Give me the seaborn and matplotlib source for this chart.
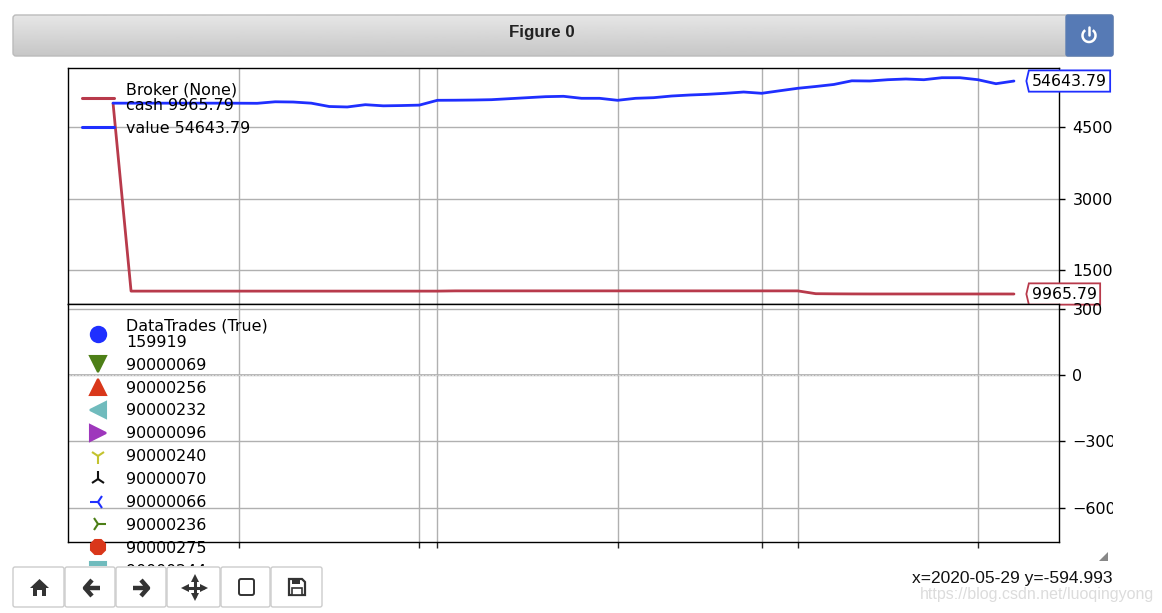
import numpy as np
import pandas as pd
import seaborn as sns
from matplotlib import pyplot as plt
from matplotlib.lines import Line2D
from matplotlib.patches import Arc, FancyBboxPatch, Polygon, Rectangle
from matplotlib.path import Path

# values, one per bar of the backtest
cash = [50000, 10570, 10570, 10570, 10570, 10570, 10570, 10570, 10570, 10570,
        10570, 10570, 10570, 10570, 10570, 10570, 10570, 10570, 10570, 10620,
        10620, 10620, 10620, 10620, 10620, 10620, 10620, 10620, 10620, 10620,
        10620, 10620, 10620, 10620, 10620, 10620, 10620, 10620, 10620, 10030,
        10000, 9980, 9970, 9970, 9970, 9970, 9970, 9970, 9970, 9970, 9965.79]
value = [50000, 50000, 50000, 50000, 50000, 50000, 50000, 49990, 49970, 50290,
         50240, 50000, 49300, 49200, 49680, 49440, 49500, 49590, 50600, 50620,
         50660, 50730, 50940, 51150, 51360, 51440, 51020, 51020, 50600, 51020,
         51150, 51500, 51710, 51860, 52070, 52340, 52070, 52600, 53120, 53500,
         53920, 54690, 54650, 54920, 55070, 54920, 55340, 55340, 54920, 54080,
         54643.79]
x_ticks = [7, 17, 18, 28, 36, 38, 48]
top_yticks = [15000, 30000, 45000]
bottom_yticks = [300, 0, -300, -600]

trade_ids = ['DataTrades (True)\n159919', '90000069', '90000256', '90000232',
             '90000096', '90000240', '90000070', '90000066', '90000236',
             '90000275', '90000244']
trade_markers = ['o', 'v', '^', '<', '>', '1', '2', '3', '4', '8', 's']
trade_colors = ['#1f2fff', '#4d7f17', '#d9371a', '#70bbbd', '#9e37bc', '#c3c32f',
                '#111111', '#1f2fff', '#4d7f17', '#d9371a', '#70bbbd']

RED = '#b83a4b'
BLUE = '#1f2fff'
INK = '#333333'

sns.set_theme(style='ticks')
plt.rcParams['font.family'] = ['DejaVu Sans']
plt.rcParams['font.size'] = 11
plt.rcParams['text.color'] = 'black'

W, H = 1162, 613
fig = plt.figure(figsize=(W / 100, H / 100), dpi=100)
fig.patch.set_facecolor('white')


def px_axes(left, top, right, bottom, **kw):
    return fig.add_axes([left / W, 1 - bottom / H, (right - left) / W, (bottom - top) / H], **kw)


def tag_box(x0, y0, w, h, m):
    # box with a small point on its left side
    pad = 0.2 * m
    x0, y0, x1, y1 = x0 - pad, y0 - pad, x0 + w + pad, y0 + h + pad
    pts = [(x0, y0), (x1, y0), (x1, y1), (x0, y1), (x0 - 2.5, (y0 + y1) / 2), (x0, y0)]
    return Path(pts, closed=True)


ax_top = px_axes(68, 68, 1059, 304)
ax_bot = px_axes(68, 304, 1059, 542, sharex=ax_top)

df = pd.DataFrame({'bar': np.arange(len(cash)), 'cash': cash, 'value': value})
sns.lineplot(data=df, x='bar', y='cash', color=RED, lw=2, ax=ax_top,
             label='Broker (None)\ncash 9965.79')
sns.lineplot(data=df, x='bar', y='value', color=BLUE, lw=2, ax=ax_top,
             label='value 54643.79')

ax_top.set_xlim(-2.5, 52.5)
ax_top.set_ylim(7868, 57377)
ax_bot.set_ylim(-755, 321)
ax_top.set_yticks(top_yticks)
ax_bot.set_yticks(bottom_yticks)
ax_top.set_xticks(x_ticks)

for ax in (ax_top, ax_bot):
    ax.grid(True, color='#b0b0b0', lw=1.0)
    ax.set_axisbelow(True)
    ax.set_xlabel('')
    ax.set_ylabel('')
    ax.yaxis.tick_right()
    ax.tick_params(axis='y', length=4.5, width=1, pad=5.2, labelsize=11.5, colors='black')
    ax.tick_params(axis='x', length=4.5, width=1, labelbottom=False)
    for s in ax.spines.values():
        s.set_visible(True)
        s.set_color('black')
        s.set_linewidth(1.0)
ax_top.tick_params(axis='x', length=0)
ax_bot.axhline(0, color='#b0b0b0', lw=1.2)
ax_bot.axhline(0, color='white', lw=0.4, ls=(0, (4, 2)))

leg = ax_top.legend(loc='upper left', frameon=False, fontsize=11.4, handlelength=2.0,
                    handletextpad=0.78, labelspacing=0.5)
for t in leg.get_texts():
    t.set_linespacing(1.05)
for h in leg.get_lines():
    h.set_linewidth(2.2)

for val, txt, col in [(value[-1], '54643.79', BLUE), (cash[-1], '9965.79', RED)]:
    ax_top.annotate(txt, xy=(50, val), xytext=(13, 0), textcoords='offset points',
                    va='center', ha='left', fontsize=11.3, annotation_clip=False,
                    bbox=dict(boxstyle=tag_box, fc='white', ec=col, lw=1.3))

handles = [Line2D([], [], ls='none', marker=m, color=c, ms=11, mew=1.5)
           for m, c in zip(trade_markers, trade_colors)]
leg2 = ax_bot.legend(handles, trade_ids, loc='upper left', frameon=False, fontsize=11.4,
                     handlelength=2.0, handletextpad=0.78, labelspacing=0.5)
for t in leg2.get_texts():
    t.set_linespacing(1.12)

# window chrome of the notebook widget, in pixels
ov = fig.add_axes([0, 0, 1, 1], zorder=5)
ov.set_xlim(0, W)
ov.set_ylim(H, 0)
ov.axis('off')
ov.add_patch(Rectangle((1113, 60), 49, 500, fc='white', ec='none'))
ov.add_patch(Rectangle((0, 566), W, 47, fc='white', ec='none'))

bar = FancyBboxPatch((15, 17), 1096, 37, boxstyle='round,pad=2,rounding_size=3',
                     fc='none', ec='#bbbbbb', lw=1)
ov.add_patch(bar)
im = ov.imshow(np.linspace(0.9, 0.78, 40).reshape(-1, 1), extent=[13, 1113, 56, 15],
               cmap='gray', vmin=0, vmax=1, aspect='auto')
im.set_clip_path(bar)
ov.set_xlim(0, W)
ov.set_ylim(H, 0)
ov.add_patch(FancyBboxPatch((1068, 17), 43, 37, boxstyle='round,pad=2,rounding_size=2',
                            fc='#567ab5', ec='#5a7cb3', lw=1))
ov.add_patch(Arc((1089, 35.5), 13, 13, theta1=-55, theta2=235, color='white', lw=1.8))
ov.plot([1089, 1089], [27, 34.5], color='white', lw=1.8)
ov.text(542, 32, 'Figure 0', family='Liberation Sans', weight='bold', fontsize=12.2,
        color='#222222', ha='center', va='center')

for x0, x1 in [(13, 64), (65, 115), (116, 166), (167, 220), (221, 270), (271, 322)]:
    ov.add_patch(FancyBboxPatch((x0 + 1, 568), x1 - x0 - 2, 38, boxstyle='round,pad=1,rounding_size=2',
                                fc='white', ec='#cccccc', lw=1))

# home
ov.add_patch(Polygon([(30, 588), (39.5, 579), (49, 588), (46, 588), (46, 596), (42, 596), (42, 590),
                      (37, 590), (37, 596), (33, 596), (33, 588)], fc=INK, ec='none'))
# back, forward
ov.plot([100, 85, 92], [588, 588, 580], color=INK, lw=3.2, solid_capstyle='butt')
ov.plot([85, 92], [588, 596], color=INK, lw=3.2, solid_capstyle='butt')
ov.plot([133, 148, 141], [588, 588, 580], color=INK, lw=3.2, solid_capstyle='butt')
ov.plot([148, 141], [588, 596], color=INK, lw=3.2, solid_capstyle='butt')
# move
ov.plot([186, 203], [587.5, 587.5], color=INK, lw=2.2)
ov.plot([194.5, 194.5], [579, 596], color=INK, lw=2.2)
for mx, my, mk in [(185, 587.5, '<'), (204, 587.5, '>'), (194.5, 578, '^'), (194.5, 597, 'v')]:
    ov.plot([mx], [my], marker=mk, ms=5.5, color=INK, mew=0)
# zoom rectangle
ov.add_patch(FancyBboxPatch((240, 580), 13, 14, boxstyle='round,pad=1,rounding_size=2',
                            fc='white', ec=INK, lw=1.4))
# save
ov.add_patch(Polygon([(289, 579), (302, 579), (305, 582), (305, 595), (289, 595)],
                     fc='white', ec=INK, lw=1.6))
ov.add_patch(Rectangle((292, 579), 8, 5, fc=INK, ec='none'))
ov.add_patch(Rectangle((292, 588), 10, 7, fc='white', ec=INK, lw=1.2))

ov.add_patch(Polygon([(1099, 561), (1108, 561), (1108, 552)], fc='#888888', ec='none'))
ov.text(1154, 595, 'https://blog.csdn.net/luoqingyong', family='Liberation Sans', fontsize=11.5,
        color='#dcdcdc', ha='right', va='center')
ov.text(1113, 579, 'x=2020-05-29 y=-594.993', family='Liberation Sans', fontsize=12.5,
        color='#111111', ha='right', va='center')

plt.savefig('out.png', dpi=100)
